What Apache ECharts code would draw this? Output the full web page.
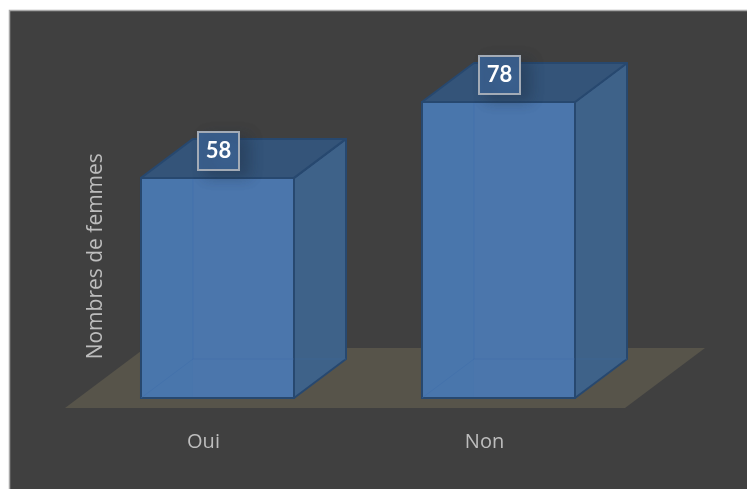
<!DOCTYPE html>
<html>
<head>
<meta charset="utf-8">
<style>html,body{margin:0;padding:0;background:#fff}#c{width:747px;height:489px}</style>
<script src="https://cdn.jsdelivr.net/npm/echarts@6/dist/echarts.min.js"></script>
</head>
<body>
<div id="c"></div>
<script>
const categories = ['Oui', 'Non'];
const values = [58, 78];
const axisTitle = 'Nombres de femmes';

const chart = echarts.init(document.getElementById('c'), null, {renderer: 'canvas'});

function drawFloor(params) {
  const g = params.coordSys;
  const base = g.y + g.height;
  const x0 = g.x - 12, x1 = g.x + g.width - 14, y0 = base + 10, dx = 80, dy = 60;
  return {
    type: 'polygon',
    shape: {points: [[x0, y0], [x1, y0], [x1 + dx, y0 - dy], [x0 + dx, y0 - dy]]},
    style: {fill: '#57544a'}
  };
}

function drawBar(params, api) {
  const idx = api.value(0);
  const top = api.coord([idx, api.value(1)]);
  const bot = api.coord([idx, 0]);
  const w = api.size([1, 0])[0] * 0.5445;
  const dx = 52, dy = 39;
  const l = top[0] - w / 2, r = top[0] + w / 2, t = top[1], b = bot[1];
  const edge = '#27486f';
  const inner = 'rgba(60,108,170,0.4)';
  const lw = 2;
  const bx = top[0] + 1, by = t - 27, bw = 41, bh = 38;
  return {
    type: 'group',
    children: [
      {type: 'polygon', shape: {points: [[r, t], [r + dx, t - dy], [r + dx, b - dy], [r, b]]},
       style: {fill: '#3e6289', stroke: edge, lineWidth: lw, lineJoin: 'round'}},
      {type: 'line', shape: {x1: r, y1: b - dy, x2: r + dx, y2: b - dy},
       style: {stroke: 'rgba(60,105,160,0.4)', lineWidth: 1}},
      {type: 'polygon', shape: {points: [[l, t], [l + dx, t - dy], [r + dx, t - dy], [r, t]]},
       style: {fill: '#345479', stroke: edge, lineWidth: lw, lineJoin: 'round'}},
      {type: 'rect', shape: {x: l, y: t, width: w, height: b - t},
       style: {fill: '#4b76ac', stroke: edge, lineWidth: lw}},
      {type: 'rect', shape: {x: l + 1, y: t + 1, width: dx - 1, height: b - t - 2},
       style: {fill: 'rgba(60,115,180,0.1)'}},
      {type: 'polyline', shape: {points: [[l + dx, t + 1], [l + dx, b - dy], [l, b]]},
       style: {fill: null, stroke: inner, lineWidth: 1}},
      {type: 'line', shape: {x1: l + dx, y1: b - dy, x2: r, y2: b - dy},
       style: {stroke: inner, lineWidth: 1}},
      {type: 'rect', shape: {x: bx - bw / 2, y: by - bh / 2, width: bw, height: bh},
       style: {fill: '#3a5f8d', stroke: '#a3abb6', lineWidth: 2,
               shadowColor: 'rgba(30,45,65,0.4)', shadowBlur: 14, shadowOffsetX: 9, shadowOffsetY: 5}},
      {type: 'text', x: bx, y: by,
       style: {text: String(api.value(1)), fill: '#ffffff', font: 'bold 22px Lato', align: 'center', verticalAlign: 'middle'}}
    ]
  };
}

chart.setOption({
  animation: false,
  backgroundColor: '#ffffff',
  graphic: [{
    type: 'rect', z: -10, silent: true,
    shape: {x: 9.5, y: 10.5, width: 800, height: 600},
    style: {fill: '#404040', stroke: '#a8a8a8', lineWidth: 1.5}
  }],
  grid: {left: 77, width: 562, top: 18.5, bottom: 91},
  xAxis: {
    type: 'category', data: categories,
    axisLine: {show: false}, axisTick: {show: false}, splitLine: {show: false},
    axisLabel: {color: '#bdbdbd', fontFamily: 'Open Sans', fontSize: 20, margin: 34, padding: [0, 28, 0, 0]}
  },
  yAxis: {
    type: 'value', min: 0, max: 100,
    axisLine: {show: false}, axisTick: {show: false}, axisLabel: {show: false}, splitLine: {show: false},
    name: axisTitle, nameLocation: 'middle', nameRotate: 90, nameGap: -30,
    nameTextStyle: {color: '#bdbdbd', fontFamily: 'Open Sans', fontSize: 21, padding: [0, 96, 0, 0]}
  },
  series: [
    {type: 'custom', silent: true, z: 1, renderItem: drawFloor, data: [[0, 0]]},
    {type: 'custom', silent: true, z: 2, renderItem: drawBar, encode: {x: 0, y: 1},
     data: values.map((v, i) => [i, v])}
  ]
});
</script>
</body>
</html>
